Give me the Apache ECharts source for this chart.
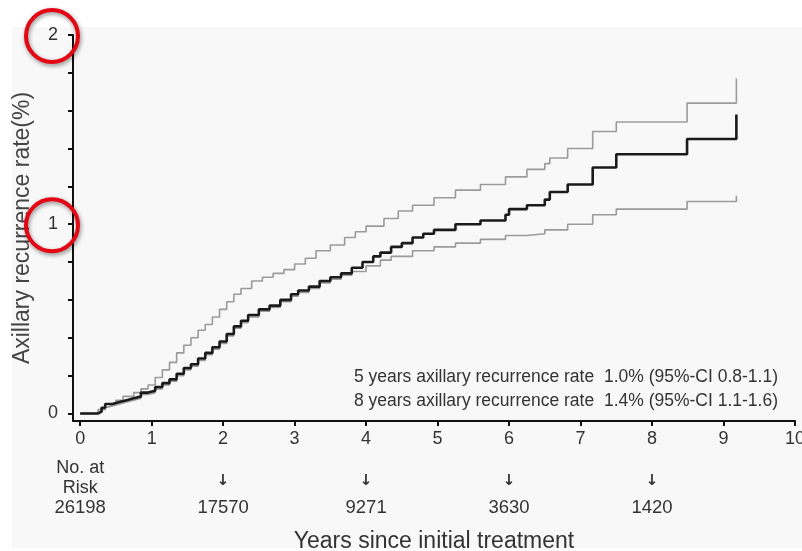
<!DOCTYPE html>
<html>
<head>
<meta charset="utf-8">
<script src="https://cdn.jsdelivr.net/npm/echarts@6/dist/echarts.min.js"></script>
<style>html,body{margin:0;padding:0;background:#fff}#c{width:802px;height:551px}</style>
</head>
<body>
<div id="c"></div>
<script>
// Kaplan-Meier style cumulative axillary recurrence (%), [years, rate]
const rateMain = [[0,0],[0.15,0],[0.25,0.01],[0.3,0.03],[0.35,0.05],[0.45,0.06],[0.55,0.07],[0.65,0.08],[0.75,0.09],[0.85,0.11],[0.95,0.12],[1.05,0.14],[1.15,0.16],[1.25,0.18],[1.35,0.21],[1.45,0.24],[1.55,0.26],[1.65,0.29],[1.75,0.32],[1.85,0.35],[1.95,0.38],[2.05,0.42],[2.15,0.46],[2.25,0.49],[2.35,0.52],[2.5,0.55],[2.65,0.57],[2.8,0.60],[2.95,0.63],[3.05,0.65],[3.2,0.67],[3.35,0.70],[3.5,0.72],[3.65,0.74],[3.8,0.77],[3.95,0.80],[4.1,0.83],[4.2,0.85],[4.35,0.88],[4.5,0.90],[4.65,0.93],[4.8,0.95],[4.95,0.97],[5.25,1.00],[5.6,1.02],[5.95,1.05],[6.0,1.08],[6.25,1.10],[6.5,1.13],[6.57,1.17],[6.82,1.21],[7.17,1.30],[7.5,1.37],[8.49,1.45],[9.18,1.58]];
const rateUpper = [[0,0],[0.15,0],[0.25,0.02],[0.35,0.05],[0.5,0.07],[0.6,0.09],[0.75,0.11],[0.85,0.13],[0.95,0.15],[1.05,0.19],[1.15,0.23],[1.25,0.27],[1.35,0.32],[1.45,0.36],[1.55,0.40],[1.65,0.44],[1.75,0.47],[1.85,0.51],[1.95,0.55],[2.05,0.59],[2.15,0.63],[2.25,0.66],[2.4,0.70],[2.55,0.72],[2.7,0.74],[2.85,0.76],[3.0,0.79],[3.15,0.82],[3.3,0.86],[3.5,0.89],[3.7,0.93],[3.85,0.96],[4.0,0.99],[4.25,1.03],[4.45,1.07],[4.65,1.10],[4.95,1.14],[5.25,1.18],[5.6,1.21],[5.95,1.25],[6.25,1.29],[6.5,1.32],[6.57,1.35],[6.82,1.40],[7.17,1.49],[7.5,1.54],[8.49,1.64],[9.18,1.77]];
const rateLower = [[0,0],[0.15,0],[0.25,0.01],[0.3,0.03],[0.35,0.04],[0.45,0.05],[0.55,0.06],[0.65,0.07],[0.75,0.08],[0.85,0.10],[0.95,0.11],[1.05,0.13],[1.15,0.15],[1.25,0.17],[1.35,0.20],[1.45,0.23],[1.55,0.25],[1.65,0.28],[1.75,0.31],[1.85,0.34],[1.95,0.37],[2.05,0.41],[2.15,0.45],[2.25,0.48],[2.35,0.51],[2.5,0.54],[2.65,0.56],[2.8,0.59],[2.95,0.62],[3.05,0.64],[3.2,0.66],[3.35,0.69],[3.5,0.71],[3.65,0.73],[3.8,0.75],[4.0,0.78],[4.2,0.81],[4.35,0.83],[4.65,0.86],[4.95,0.88],[5.25,0.90],[5.6,0.92],[5.95,0.94],[6.25,0.95],[6.5,0.97],[6.82,1.00],[7.17,1.05],[7.5,1.08],[8.49,1.12],[9.18,1.15]];

const xTicks = [0,1,2,3,4,5,6,7,8,9,10];
const yTicks = [0,0.2,0.4,0.6,0.8,1,1.2,1.4,1.6,1.8,2];
const yLabels = [0,1,2];
const riskYears = [0,2,4,6,8];
const riskCounts = ['26198','17570','9271','3630','1420'];
const notes = ['5 years axillary recurrence rate  1.0% (95%-CI 0.8-1.1)','8 years axillary recurrence rate  1.4% (95%-CI 1.1-1.6)'];
const highlightedYTicks = [2,1];

const FONT = 'Liberation Sans, Arial, sans-serif';
const chart = echarts.init(document.getElementById('c'), null, {renderer:'canvas'});

const option = {
  animation:false,
  backgroundColor:'#ffffff',
  grid:{left:73, right:7, top:35, bottom:130, containLabel:false, outerBoundsMode:'none'},
  xAxis:{
    type:'value', min:-0.1, max:10,
    axisLine:{show:true, onZero:false, lineStyle:{color:'#111', width:2}},
    axisTick:{show:true, customValues:xTicks, length:5, lineStyle:{color:'#111', width:2}},
    axisLabel:{customValues:xTicks, fontSize:18, color:'#333', margin:9, fontFamily:FONT, hideOverlap:false},
    splitLine:{show:false},
    name:'Years since initial treatment', nameLocation:'middle', nameGap:109,
    nameTextStyle:{fontSize:23, color:'#333', fontFamily:FONT}
  },
  yAxis:{
    type:'value', min:-0.04, max:2,
    axisLine:{show:true, onZero:false, lineStyle:{color:'#111', width:2}},
    axisTick:{show:true, customValues:yTicks, length:5, lineStyle:{color:'#111', width:2}},
    axisLabel:{customValues:yLabels, fontSize:18, color:'#333', margin:15, fontFamily:FONT},
    splitLine:{show:false},
    name:'Axillary recurrence rate(%)', nameLocation:'middle', nameGap:39,
    nameTextStyle:{fontSize:23, color:'#444', fontFamily:FONT}
  },
  series:[
    {type:'line', step:'end', data:rateUpper, symbol:'none', lineStyle:{color:'#9a9a9a', width:1.6}, z:2},
    {type:'line', step:'end', data:rateLower, symbol:'none', lineStyle:{color:'#9a9a9a', width:1.6}, z:2},
    {type:'line', step:'end', data:rateMain, symbol:'none', lineStyle:{color:'#1a1a1a', width:2.6}, z:3}
  ]
};
chart.setOption(option);

const g = [];
g.push({type:'rect', z:-10, silent:true, shape:{x:12, y:27, width:790, height:521}, style:{fill:'#f8f8f8'}});
riskYears.forEach((yr, i) => {
  const px = chart.convertToPixel({xAxisIndex:0}, yr);
  if (i === 0) {
    g.push({type:'text', x:px, y:468, style:{text:'No. at', fill:'#333', font:'18px '+FONT, align:'center', verticalAlign:'middle'}});
    g.push({type:'text', x:px, y:488, style:{text:'Risk', fill:'#333', font:'18px '+FONT, align:'center', verticalAlign:'middle'}});
  } else {
    g.push({type:'text', x:px, y:481, style:{text:'↓', fill:'#333', font:'bold 15px "DejaVu Sans", sans-serif', align:'center', verticalAlign:'middle'}});
  }
  g.push({type:'text', x:px, y:508, style:{text:riskCounts[i], fill:'#333', font:'18.5px '+FONT, align:'center', verticalAlign:'middle'}});
});
notes.forEach((t, i) => {
  g.push({type:'text', x:778, y:377 + i*24, style:{text:t, fill:'#333', font:'17.5px '+FONT, align:'right', verticalAlign:'middle'}});
});
highlightedYTicks.forEach(v => {
  const py = chart.convertToPixel({yAxisIndex:0}, v);
  g.push({type:'circle', z:10, shape:{cx:52, cy:py+1, r:26}, style:{fill:'none', stroke:'#e30613', lineWidth:4, shadowBlur:4, shadowColor:'rgba(0,0,0,0.45)', shadowOffsetX:1, shadowOffsetY:2}});
});
chart.setOption({graphic:{elements:g}});
</script>
</body>
</html>
